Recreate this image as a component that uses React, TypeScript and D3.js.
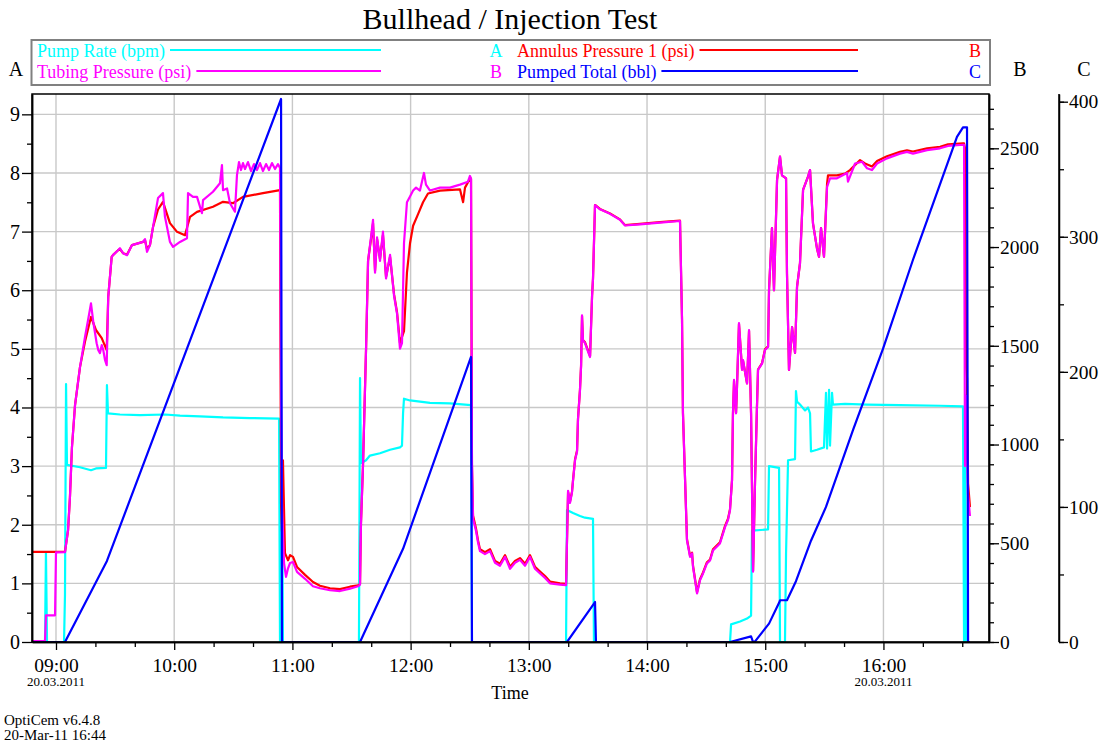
import React, { useEffect, useRef } from 'react';
import * as d3 from 'd3';

type Pt = [number, number];

// time of day in decimal hours (20.03.2011), value
const pumpRate: Pt[] = [
  [8.805, 0], [8.907, 0], [8.915, 1.53], [8.924, 0], [9.068, 0], [9.076, 0.8], [9.085, 4.4], [9.093, 3.02],
  [9.203, 2.98], [9.296, 2.93], [9.338, 2.96], [9.423, 2.97], [9.431, 4.38], [9.44, 3.9], [9.541, 3.88],
  [9.711, 3.87], [9.922, 3.88], [10.049, 3.86], [10.218, 3.85], [10.413, 3.83], [10.641, 3.82], [10.887, 3.81],
  [10.895, 0], [10.904, 0], [10.912, 3.1], [10.92, 0], [11.563, 0], [11.572, 4.5], [11.58, 3.05], [11.623, 3.1],
  [11.656, 3.18], [11.741, 3.22], [11.826, 3.28], [11.91, 3.32], [11.927, 3.35], [11.936, 3.9], [11.944, 4.15],
  [11.995, 4.12], [12.164, 4.08], [12.333, 4.07], [12.511, 4.04], [12.519, 0], [13.315, 0], [13.323, 2.25],
  [13.374, 2.2], [13.433, 2.15], [13.475, 2.12], [13.543, 2.1], [13.551, 0], [14.702, 0], [14.711, 0.3],
  [14.787, 0.35], [14.846, 0.4], [14.88, 0.45], [14.888, 1.9], [15.024, 1.92], [15.032, 3.0], [15.117, 2.97],
  [15.125, 0], [15.167, 0], [15.176, 1.5], [15.193, 3.1], [15.252, 3.12], [15.26, 4.28], [15.269, 4.1],
  [15.294, 4.05], [15.337, 3.95], [15.362, 4.0], [15.379, 3.9], [15.387, 3.25], [15.438, 3.28], [15.497, 3.32],
  [15.514, 4.25], [15.523, 3.3], [15.54, 4.3], [15.548, 3.35], [15.565, 4.25], [15.573, 4.05], [15.675, 4.06],
  [15.861, 4.05], [16.14, 4.04], [16.479, 4.03], [16.673, 4.02], [16.682, 0], [16.69, 3.5], [16.699, 0], [16.716, 0],
];

const tubingPressure: Pt[] = [
  [8.805, 5], [8.907, 5], [8.915, 135], [8.992, 135], [9.0, 454], [9.076, 455], [9.102, 566], [9.118, 733],
  [9.135, 986], [9.161, 1199], [9.203, 1392], [9.245, 1543], [9.271, 1629], [9.296, 1715], [9.316, 1619],
  [9.344, 1513], [9.358, 1478], [9.372, 1463], [9.387, 1503], [9.4, 1478], [9.415, 1427], [9.429, 1402],
  [9.442, 1748], [9.471, 1950], [9.482, 1959], [9.525, 1984], [9.541, 1994], [9.567, 1969], [9.601, 1959],
  [9.643, 2010], [9.736, 2026], [9.753, 2040], [9.77, 1976], [9.795, 2010], [9.821, 2102], [9.863, 2248],
  [9.905, 2273], [9.922, 2153], [9.964, 2026], [9.99, 2001], [10.049, 2026], [10.108, 2045], [10.117, 2273],
  [10.159, 2254], [10.193, 2254], [10.235, 2172], [10.244, 2238], [10.328, 2280], [10.387, 2323], [10.404, 2415],
  [10.413, 2288], [10.447, 2297], [10.472, 2222], [10.514, 2179], [10.531, 2364], [10.548, 2430], [10.565, 2390],
  [10.582, 2425], [10.599, 2395], [10.624, 2430], [10.65, 2385], [10.675, 2420], [10.7, 2390], [10.726, 2425],
  [10.751, 2385], [10.777, 2420], [10.802, 2390], [10.827, 2425], [10.853, 2395], [10.878, 2420], [10.895, 2400],
  [10.904, 1200], [10.912, 700], [10.929, 400], [10.946, 330], [10.963, 373], [10.98, 400], [11.005, 405],
  [11.039, 355], [11.107, 320], [11.174, 282], [11.233, 272], [11.318, 262], [11.403, 258], [11.487, 270],
  [11.555, 282], [11.572, 290], [11.58, 600], [11.597, 891], [11.623, 1485], [11.64, 1930], [11.665, 2050],
  [11.682, 2138], [11.699, 1870], [11.716, 2049], [11.741, 1930], [11.766, 2078], [11.792, 1841], [11.826, 1960],
  [11.86, 1752], [11.885, 1663], [11.91, 1485], [11.927, 1514], [11.944, 2019], [11.969, 2227], [11.995, 2256],
  [12.021, 2286], [12.046, 2301], [12.079, 2286], [12.113, 2375], [12.13, 2316], [12.164, 2286], [12.249, 2301],
  [12.333, 2301], [12.418, 2316], [12.485, 2331], [12.502, 2360], [12.511, 2346], [12.519, 900], [12.528, 624],
  [12.553, 564], [12.57, 505], [12.587, 460], [12.629, 445], [12.672, 460], [12.714, 401], [12.756, 386],
  [12.799, 431], [12.841, 371], [12.883, 401], [12.925, 416], [12.968, 386], [13.01, 431], [13.052, 371],
  [13.095, 347], [13.137, 324], [13.179, 297], [13.264, 291], [13.315, 288], [13.332, 766], [13.348, 704],
  [13.365, 757], [13.374, 817], [13.391, 920], [13.408, 965], [13.416, 1128], [13.433, 1277], [13.442, 1396],
  [13.45, 1654], [13.458, 1529], [13.475, 1514], [13.518, 1443], [13.535, 1752], [13.543, 1841], [13.56, 2213],
  [13.602, 2191], [13.687, 2168], [13.771, 2138], [13.814, 2109], [13.941, 2115], [14.11, 2124], [14.279, 2132],
  [14.296, 1634], [14.304, 1158], [14.338, 514], [14.364, 431], [14.381, 448], [14.389, 380], [14.423, 246],
  [14.448, 312], [14.474, 347], [14.507, 398], [14.533, 413], [14.558, 463], [14.617, 499], [14.66, 582],
  [14.685, 618], [14.702, 668], [14.719, 820], [14.727, 1158], [14.736, 1327], [14.753, 1158], [14.761, 1292],
  [14.778, 1615], [14.804, 1378], [14.812, 1428], [14.846, 1309], [14.863, 1580], [14.88, 1158], [14.897, 356],
  [14.914, 820], [14.93, 1191], [14.939, 1378], [14.973, 1410], [14.998, 1479], [15.024, 1494], [15.032, 1781],
  [15.057, 2096], [15.074, 1781], [15.1, 2340], [15.125, 2458], [15.142, 2363], [15.176, 2348], [15.184, 1867],
  [15.201, 1378], [15.227, 1594], [15.252, 1464], [15.269, 1799], [15.294, 1918], [15.32, 2289], [15.362, 2357],
  [15.379, 2390], [15.404, 2120], [15.438, 1992], [15.455, 1951], [15.472, 2096], [15.497, 1951], [15.523, 2304],
  [15.548, 2348], [15.607, 2348], [15.692, 2375], [15.7, 2331], [15.76, 2423], [15.819, 2432], [15.861, 2399],
  [15.903, 2390], [15.946, 2423], [16.03, 2449], [16.14, 2473], [16.199, 2482], [16.25, 2473], [16.369, 2491],
  [16.479, 2500], [16.546, 2512], [16.673, 2518], [16.682, 2518], [16.69, 891], [16.699, 1247], [16.716, 742],
  [16.732, 638],
];

const annulusPressure: Pt[] = [
  [8.805, 456], [9.076, 456], [9.102, 566], [9.118, 733], [9.135, 986], [9.161, 1199], [9.203, 1392],
  [9.245, 1520], [9.296, 1646], [9.338, 1580], [9.387, 1539], [9.429, 1478], [9.442, 1748], [9.471, 1950],
  [9.482, 1959], [9.525, 1984], [9.541, 1990], [9.567, 1969], [9.601, 1962], [9.643, 2010], [9.736, 2026],
  [9.753, 2035], [9.77, 1990], [9.795, 2010], [9.821, 2102], [9.863, 2190], [9.905, 2229], [9.964, 2121],
  [10.024, 2077], [10.091, 2060], [10.134, 2153], [10.193, 2178], [10.328, 2204], [10.413, 2229], [10.497, 2222],
  [10.582, 2254], [10.751, 2273], [10.895, 2288], [10.904, 700], [10.912, 560], [10.92, 920], [10.937, 450],
  [10.963, 414], [10.98, 440], [11.005, 431], [11.039, 380], [11.107, 340], [11.174, 304], [11.233, 285],
  [11.318, 272], [11.403, 268], [11.487, 280], [11.555, 287], [11.572, 295], [11.58, 600], [11.597, 891],
  [11.623, 1485], [11.64, 1930], [11.665, 2040], [11.682, 2120], [11.699, 1880], [11.716, 2040], [11.741, 1940],
  [11.766, 2060], [11.792, 1850], [11.826, 1950], [11.86, 1760], [11.885, 1670], [11.91, 1514], [11.944, 1574],
  [11.969, 1870], [11.995, 2019], [12.021, 2108], [12.063, 2167], [12.105, 2227], [12.147, 2271], [12.249, 2286],
  [12.418, 2292], [12.444, 2227], [12.46, 2301], [12.502, 2346], [12.511, 2346], [12.519, 900], [12.528, 640],
  [12.553, 575], [12.57, 515], [12.587, 470], [12.629, 455], [12.672, 470], [12.714, 411], [12.756, 396],
  [12.799, 440], [12.841, 381], [12.883, 410], [12.925, 425], [12.968, 396], [13.01, 440], [13.052, 381],
  [13.095, 357], [13.137, 334], [13.179, 306], [13.264, 297], [13.315, 294], [13.332, 760], [13.348, 710],
  [13.365, 760], [13.374, 820], [13.391, 925], [13.408, 970], [13.416, 1130], [13.433, 1280], [13.442, 1400],
  [13.45, 1650], [13.458, 1530], [13.475, 1518], [13.518, 1448], [13.535, 1752], [13.543, 1841], [13.56, 2213],
  [13.602, 2193], [13.687, 2170], [13.771, 2140], [13.814, 2111], [13.941, 2117], [14.11, 2126], [14.279, 2134],
  [14.296, 1634], [14.304, 1158], [14.338, 520], [14.364, 436], [14.381, 452], [14.389, 386], [14.423, 252],
  [14.448, 318], [14.474, 352], [14.507, 404], [14.533, 418], [14.558, 470], [14.617, 505], [14.66, 588],
  [14.685, 624], [14.702, 672], [14.719, 820], [14.727, 1158], [14.736, 1320], [14.753, 1160], [14.761, 1290],
  [14.778, 1610], [14.804, 1380], [14.812, 1425], [14.846, 1310], [14.863, 1575], [14.88, 1160], [14.897, 360],
  [14.914, 820], [14.93, 1190], [14.939, 1380], [14.973, 1412], [14.998, 1482], [15.024, 1497], [15.032, 1781],
  [15.057, 2096], [15.074, 1781], [15.1, 2340], [15.125, 2458], [15.142, 2363], [15.176, 2348], [15.184, 1867],
  [15.201, 1378], [15.227, 1594], [15.252, 1464], [15.269, 1799], [15.294, 1918], [15.32, 2289], [15.362, 2357],
  [15.379, 2390], [15.404, 2120], [15.438, 1992], [15.455, 1951], [15.472, 2096], [15.497, 1951], [15.523, 2320],
  [15.531, 2363], [15.607, 2363], [15.675, 2372], [15.717, 2390], [15.802, 2440], [15.844, 2423], [15.903, 2408],
  [15.946, 2436], [16.03, 2460], [16.14, 2482], [16.199, 2490], [16.25, 2484], [16.369, 2500], [16.479, 2508],
  [16.546, 2520], [16.673, 2525], [16.682, 2525], [16.69, 2500], [16.699, 1395], [16.707, 1335], [16.716, 802],
  [16.732, 683],
];

const pumpedTotal: Pt[] = [
  [8.805, 0], [9.076, 0], [9.431, 60], [10.904, 402], [10.912, 0], [11.572, 0], [11.936, 69], [12.511, 211],
  [12.519, 0], [13.323, 0], [13.56, 29.6], [13.568, 0], [14.702, 0], [14.88, 4.2], [14.897, 0], [14.914, 0.5],
  [15.032, 13.6], [15.117, 29], [15.125, 30.9], [15.184, 30.9], [15.26, 45], [15.387, 75], [15.514, 100],
  [15.743, 157], [15.996, 217], [16.25, 283], [16.622, 374], [16.673, 381], [16.707, 381], [16.716, 0], [16.732, 0],
];

const hourTicks = [9, 10, 11, 12, 13, 14, 15, 16];
const datedHours = [9, 16];
const dateText = '20.03.2011';
const rateTicks = [0, 1, 2, 3, 4, 5, 6, 7, 8, 9];
const pressureTicks = [0, 500, 1000, 1500, 2000, 2500];
const volumeTicks = [0, 100, 200, 300, 400];

const legendItems = [
  { label: 'Pump Rate (bpm)', axis: 'A', color: '#00ffff', col: 0, row: 0 },
  { label: 'Annulus Pressure 1 (psi)', axis: 'B', color: '#ff0000', col: 1, row: 0 },
  { label: 'Tubing Pressure (psi)', axis: 'B', color: '#ff00ff', col: 0, row: 1 },
  { label: 'Pumped Total (bbl)', axis: 'C', color: '#0000ff', col: 1, row: 1 },
];

const FONT = "'Liberation Serif', 'Times New Roman', serif";

const App = () => {
  const ref = useRef<SVGSVGElement>(null);

  useEffect(() => {
    if (!ref.current) return;
    const svg = d3.select(ref.current);
    svg.selectAll('*').remove();
    svg.attr('font-family', FONT);

    const left = 32, right = 989, top = 94, bottom = 642;

    const x = d3.scaleLinear().domain([8.797, 16.893]).range([left, right]);
    const yRate = d3.scaleLinear().domain([0, 9.347]).range([bottom, top]);
    const yPress = d3.scaleLinear().domain([0, 2775]).range([bottom, top]);
    const yVol = d3.scaleLinear().domain([0, 405.7]).range([bottom, top]);

    // title
    svg.append('text')
      .attr('x', 510).attr('y', 29)
      .attr('text-anchor', 'middle')
      .attr('font-size', 30)
      .text('Bullhead / Injection Test');

    // legend
    svg.append('rect')
      .attr('x', 31.5).attr('y', 40).attr('width', 958.5).attr('height', 45)
      .attr('fill', 'none').attr('stroke', '#808080').attr('stroke-width', 2);

    const cols = [{ tx: 37, lineEnd: 381, letter: 496 }, { tx: 517, lineEnd: 858, letter: 975 }];
    const rows = [50, 71];
    legendItems.forEach(item => {
      const c = cols[item.col];
      const cy = rows[item.row];
      const t = svg.append('text')
        .attr('x', c.tx).attr('y', cy + 6.5)
        .attr('font-size', 18).attr('fill', item.color)
        .text(item.label);
      const w = (t.node() as SVGTextElement).getComputedTextLength();
      svg.append('line')
        .attr('x1', c.tx + w + 5).attr('x2', c.lineEnd)
        .attr('y1', cy).attr('y2', cy)
        .attr('stroke', item.color).attr('stroke-width', 2);
      svg.append('text')
        .attr('x', c.letter).attr('y', cy + 6.5)
        .attr('text-anchor', 'middle')
        .attr('font-size', 18).attr('fill', item.color)
        .text(item.axis);
    });

    // axis letters
    [['A', 16], ['B', 1020], ['C', 1084]].forEach(([t, px]) => {
      svg.append('text')
        .attr('x', px as number).attr('y', 76)
        .attr('text-anchor', 'middle').attr('font-size', 20)
        .text(t as string);
    });

    // grid
    const grid = svg.append('g').attr('stroke', '#c8c8c8').attr('stroke-width', 1.4);
    grid.selectAll('line.v').data(hourTicks).enter().append('line')
      .attr('x1', d => x(d)).attr('x2', d => x(d))
      .attr('y1', top).attr('y2', bottom);
    grid.selectAll('line.h').data(rateTicks.slice(1)).enter().append('line')
      .attr('x1', left).attr('x2', right)
      .attr('y1', d => yRate(d)).attr('y2', d => yRate(d));

    // series
    svg.append('clipPath').attr('id', 'plot-clip')
      .append('rect').attr('x', left).attr('y', top)
      .attr('width', right - left).attr('height', bottom - top);

    const series = [
      { data: pumpRate, y: yRate, color: '#00ffff' },
      { data: annulusPressure, y: yPress, color: '#ff0000' },
      { data: tubingPressure, y: yPress, color: '#ff00ff' },
      { data: pumpedTotal, y: yVol, color: '#0000ff' },
    ];
    const plotG = svg.append('g').attr('clip-path', 'url(#plot-clip)');
    series.forEach(s => {
      const line = d3.line<Pt>().x(d => x(d[0])).y(d => s.y(d[1]));
      plotG.append('path')
        .datum(s.data)
        .attr('d', line)
        .attr('fill', 'none')
        .attr('stroke', s.color)
        .attr('stroke-width', 2.2)
        .attr('stroke-linejoin', 'round');
    });

    // frame
    svg.append('rect')
      .attr('x', left).attr('y', top)
      .attr('width', right - left).attr('height', bottom - top)
      .attr('fill', 'none').attr('stroke', '#000').attr('stroke-width', 1.5);

    // draws an axis into its own group and restyles d3's defaults
    const drawAxis = (tx: number, ty: number, axis: any, size: number) => {
      const g = svg.append('g').attr('transform', `translate(${tx},${ty})`).call(axis);
      g.attr('font-family', FONT).attr('font-size', size);
      g.selectAll('.tick line').attr('stroke', '#000').attr('stroke-width', 1.3);
      g.selectAll('.domain').attr('stroke', '#000').attr('stroke-width', 1.5);
      g.selectAll('text').attr('fill', '#000');
      return g;
    };
    const noLabel = () => '';
    const fmt = d3.format('d');

    // left axis A
    drawAxis(left, 0, d3.axisLeft(yRate).tickValues(d3.range(0.5, 9.3, 1)).tickSize(5).tickSizeOuter(0).tickFormat(noLabel), 20);
    drawAxis(left, 0, d3.axisLeft(yRate).tickValues(rateTicks).tickSize(10).tickSizeOuter(0).tickPadding(2).tickFormat(fmt), 20);

    // bottom time axis
    const minor = d3.range(9, 16.9, 1 / 3).filter(h => Math.abs(h - Math.round(h)) > 0.01);
    drawAxis(0, bottom, d3.axisBottom(x).tickValues(minor).tickSize(5).tickSizeOuter(0).tickFormat(noLabel), 19.5);
    drawAxis(0, bottom,
      d3.axisBottom(x).tickValues(hourTicks).tickSize(8).tickSizeOuter(0).tickPadding(8)
        .tickFormat((h: any) => `${String(h).padStart(2, '0')}:00`),
      19.5);

    svg.selectAll('text.date').data(datedHours).enter().append('text')
      .attr('class', 'date')
      .attr('x', d => x(d)).attr('y', 686)
      .attr('text-anchor', 'middle').attr('font-size', 13)
      .text(dateText);

    svg.append('text')
      .attr('x', 510).attr('y', 699)
      .attr('text-anchor', 'middle').attr('font-size', 18)
      .text('Time');

    // right axis B
    drawAxis(right, 0, d3.axisRight(yPress).tickValues(d3.range(0, 2776, 100)).tickSize(5).tickSizeOuter(0).tickFormat(noLabel), 19.5);
    drawAxis(right, 0, d3.axisRight(yPress).tickValues(pressureTicks).tickSize(10).tickSizeOuter(0).tickPadding(1).tickFormat(fmt), 19.5);

    // right axis C
    drawAxis(1059, 0, d3.axisRight(yVol).tickValues(d3.range(0, 401, 50)).tickSize(5).tickSizeOuter(0).tickFormat(noLabel), 19.5);
    const gC = drawAxis(1059, 0, d3.axisRight(yVol).tickValues(volumeTicks).tickSize(9).tickSizeOuter(0).tickPadding(1).tickFormat(fmt), 19.5);
    gC.select('.domain').attr('d', `M0,${top}V${bottom}`);

    // footer
    svg.append('text').attr('x', 4).attr('y', 725).attr('font-size', 15).text('OptiCem v6.4.8');
    svg.append('text').attr('x', 4).attr('y', 740).attr('font-size', 15).text('20-Mar-11 16:44');
  }, []);

  return (
    <svg
      ref={ref}
      width={1101}
      height={744}
      style={{ position: 'absolute', left: 0, top: 0, background: '#fff' }}
    />
  );
};

export default App;
